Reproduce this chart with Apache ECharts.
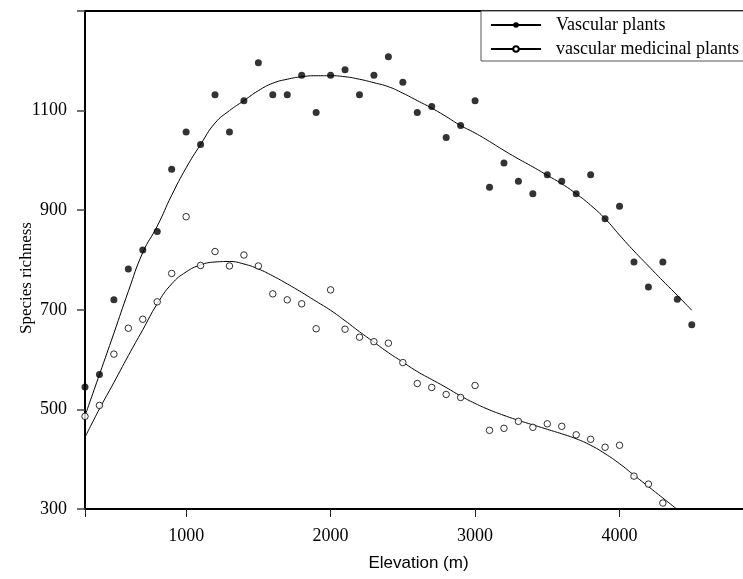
<!DOCTYPE html>
<html>
<head>
<meta charset="utf-8">
<script src="https://cdn.jsdelivr.net/npm/echarts@6/dist/echarts.min.js"></script>
<style>html,body{margin:0;padding:0;background:#fff;}#chart{width:743px;height:579px;}</style>
</head>
<body>
<div id="chart"></div>
<script>
const elevations = [300,400,500,600,700,800,900,1000,1100,1200,1300,1400,1500,1600,1700,1800,1900,2000,2100,2200,2300,2400,2500,2600,2700,2800,2900,3000,3100,3200,3300,3400,3500,3600,3700,3800,3900,4000,4100,4200,4300,4400,4500];
const vascularPlants = [545,570,720,782,820,857,982,1057,1032,1132,1057,1120,1196,1132,1132,1171,1096,1171,1182,1132,1171,1208,1157,1096,1108,1046,1070,1120,946,995,958,933,971,958,933,971,883,908,796,746,796,721,670];
const medicinalPlants = [486,508,611,663,681,716,773,887,789,817,788,810,788,732,720,712,662,740,661,645,636,633,594,552,544,530,524,548,458,462,476,464,471,466,449,440,424,428,366,350,312];
const vascularFit = [487,570,653,737,815,868,930,985,1032,1075,1100,1120,1140,1155,1163,1168,1170,1170,1168,1163,1156,1148,1135,1120,1105,1088,1070,1055,1038,1020,1003,987,970,953,933,910,883,850,818,788,758,729,699];
const medicinalFit = [444,501,554,608,660,712,752,776,790,796,797,792,782,768,752,735,717,699,678,656,635,614,595,576,560,544,527,512,499,488,478,469,460,451,441,428,411,391,368,345,322,299];
const xTicks = [1000,2000,3000,4000];
const yTicks = [300,500,700,900,1100];
const seriesNames = ['Vascular plants','vascular medicinal plants'];
const xMin = 300, xMax = 5000, xInterval = 1000;
const yMin = 300, yMax = 1300, yInterval = 200;

function pairs(xs, ys){ return ys.map((v,i)=>[xs[i], v]); }

const chart = echarts.init(document.getElementById('chart'), null, {renderer:'canvas'});
const serif = 'Liberation Serif';
const tickLabel = {fontFamily:serif, fontSize:18, color:'#000'};
chart.setOption({
  animation:false,
  backgroundColor:'#fff',
  grid:{left:85, right:-21, top:11, bottom:70, containLabel:false, outerBoundsMode:'none'},
  legend:{
    orient:'vertical', left:481, top:11,
    padding:[5,20,3,9],
    backgroundColor:'#fff', borderColor:'#555', borderWidth:1,
    itemWidth:50, itemHeight:7, itemGap:6,
    data:seriesNames,
    textStyle:{fontFamily:serif, fontSize:18, color:'#000', padding:[0,0,0,10]}
  },
  xAxis:[{
    // data axis
    type:'value', min:xMin, max:xMax, position:'bottom',
    name:'Elevation (m)', nameLocation:'middle', nameGap:46, nameMoveOverlap:false,
    nameTextStyle:{fontFamily:'Liberation Sans', fontSize:17, color:'#000', padding:[0,12,0,0]},
    axisLine:{show:false}, axisTick:{show:false}, axisLabel:{show:false}, splitLine:{show:false}
  },{
    type:'value', min:xMin, max:xMax, position:'top',
    axisLine:{show:true, onZero:false, lineStyle:{color:'#000', width:2}},
    axisTick:{show:false}, axisLabel:{show:false}, splitLine:{show:false}
  },{
    // label axis: mirrored values so labels fall on multiples of 1000
    type:'value', min:-xMax, max:-xMin, inverse:true, interval:xInterval, position:'bottom',
    axisLine:{show:true, onZero:false, lineStyle:{color:'#000', width:2}},
    axisTick:{show:false},
    axisLabel:{show:true, margin:18, ...tickLabel, formatter:v => xTicks.indexOf(-v) >= 0 ? String(-v) : ''},
    splitLine:{show:false}
  },{
    // tick axis (same mirrored scale, empty labels)
    type:'value', min:-xMax, max:-xMin, inverse:true, interval:xInterval, position:'bottom',
    axisLine:{show:false},
    axisTick:{show:true, inside:false, length:8, lineStyle:{color:'#222', width:1}},
    axisLabel:{show:true, margin:18, ...tickLabel, formatter:() => ''},
    splitLine:{show:false}
  }],
  yAxis:[{
    // label axis
    type:'value', min:yMin, max:yMax, interval:yInterval, position:'left',
    axisLine:{show:true, onZero:false, lineStyle:{color:'#000', width:2}},
    axisTick:{show:false},
    axisLabel:{show:true, margin:18, ...tickLabel, formatter:v => yTicks.indexOf(v) >= 0 ? String(v) : ''},
    splitLine:{show:false}
  },{
    // data axis
    type:'value', min:yMin, max:yMax, position:'left',
    name:'Species richness', nameLocation:'middle', nameGap:50, nameRotate:90, nameMoveOverlap:false,
    nameTextStyle:{fontFamily:serif, fontSize:17, color:'#000', padding:[0,36,0,0]},
    axisLine:{show:false}, axisTick:{show:false}, axisLabel:{show:false}, splitLine:{show:false}
  },{
    // tick axis (empty labels)
    type:'value', min:yMin, max:yMax, interval:yInterval, position:'left',
    axisLine:{show:false},
    axisTick:{show:true, inside:false, length:8, lineStyle:{color:'#444', width:1.5}},
    axisLabel:{show:true, margin:18, ...tickLabel, formatter:() => ''},
    splitLine:{show:false}
  }],
  series:[
    {name:seriesNames[0], type:'line', smooth:true, xAxisIndex:0, yAxisIndex:1, data:pairs(elevations, vascularFit),
     symbol:'circle', showSymbol:false, lineStyle:{color:'#000', width:1}, itemStyle:{color:'#000'}, z:2},
    {name:seriesNames[1], type:'line', smooth:true, xAxisIndex:0, yAxisIndex:1, data:pairs(elevations, medicinalFit),
     symbol:'emptyCircle', showSymbol:false, lineStyle:{color:'#000', width:1}, itemStyle:{color:'#000'}, z:2},
    {name:seriesNames[0], type:'scatter', xAxisIndex:0, yAxisIndex:1, data:pairs(elevations, vascularPlants),
     symbol:'circle', symbolSize:7, itemStyle:{color:'#000'}, z:3},
    {name:seriesNames[1], type:'scatter', xAxisIndex:0, yAxisIndex:1, data:pairs(elevations, medicinalPlants),
     symbol:'circle', symbolSize:6.5, itemStyle:{color:'#fff', borderColor:'#000', borderWidth:1}, z:3}
  ]
});
</script>
</body>
</html>
